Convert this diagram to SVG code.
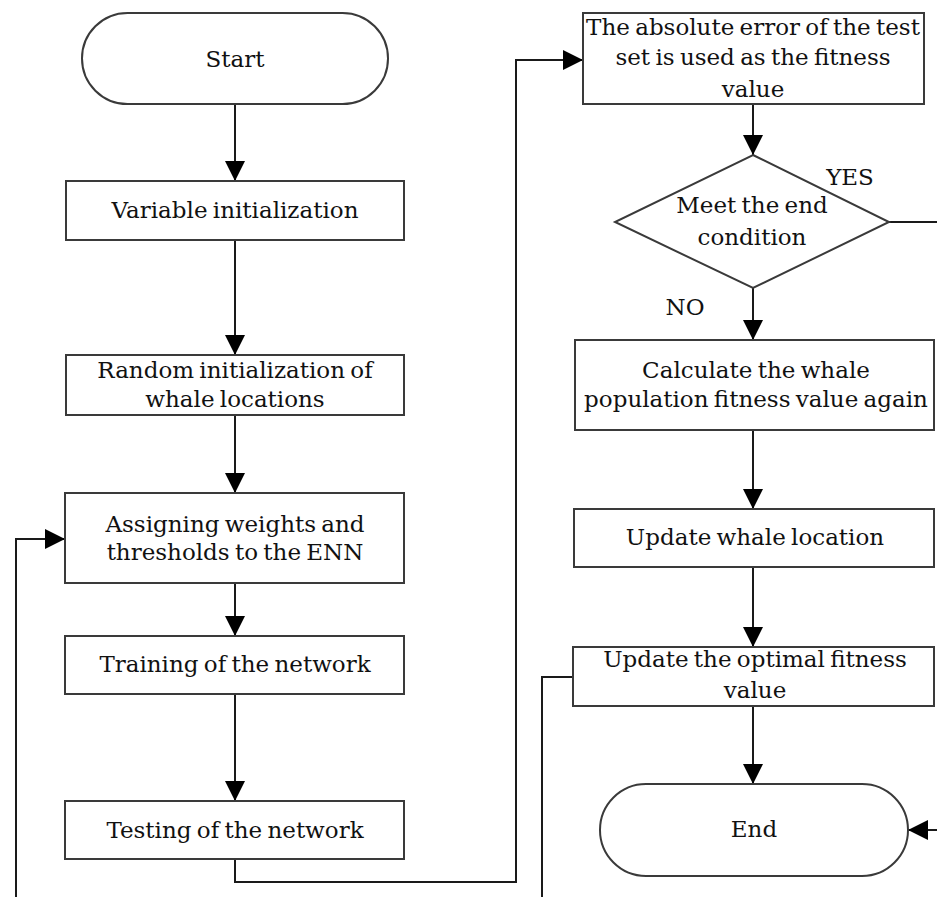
<svg xmlns="http://www.w3.org/2000/svg" width="937" height="897" viewBox="0 0 937 897">
<defs>
<marker id="arr" markerUnits="userSpaceOnUse" markerWidth="20" markerHeight="20" viewBox="0 0 18 18" refX="18" refY="9" orient="auto">
<path d="M0,0 L18,9 L0,18 Z" fill="#000"/>
</marker>
<style>
.box{fill:#fff;stroke:#3a3a3a;stroke-width:2}
.t{font-family:"DejaVu Serif","Liberation Serif",serif;font-size:23px;fill:#111;text-anchor:middle;word-spacing:-2px}
.c{fill:none;stroke:#1a1a1a;stroke-width:2}
.ca{fill:none;stroke:#1a1a1a;stroke-width:2;marker-end:url(#arr)}
</style>
</defs>
<rect width="937" height="897" fill="#fff"/>
<g id="connectors">
<path class="ca" d="M235,104 V181"/>
<path class="ca" d="M235,240 V355"/>
<path class="ca" d="M235,415 V493"/>
<path class="ca" d="M235,583 V636"/>
<path class="ca" d="M235,694 V801"/>
<path class="ca" d="M235,859 V882 H516 V60 H583"/>
<path class="ca" d="M753,104 V155"/>
<path class="ca" d="M753,288 V340"/>
<path class="ca" d="M889,222 H960 V830 H908"/>
<path class="ca" d="M753,430 V509"/>
<path class="ca" d="M753,567 V647"/>
<path class="ca" d="M753,706 V784"/>
<path class="ca" d="M573,677 H542 V930 H16 V539 H65"/>
<text class="t" x="850" y="185">YES</text>
<text class="t" x="685" y="315">NO</text>
</g>
<g id="start"><rect class="box" x="82" y="13" width="306" height="91" rx="45.5"/><text class="t" x="235" y="67">Start</text></g>
<g id="var-init"><rect class="box" x="66" y="181" width="338" height="59"/><text class="t" x="235" y="218">Variable initialization</text></g>
<g id="random-init"><rect class="box" x="66" y="355" width="338" height="60"/><text class="t" x="235" y="378">Random initialization of</text><text class="t" x="235" y="407">whale locations</text></g>
<g id="assign"><rect class="box" x="65" y="493" width="339" height="90"/><text class="t" x="235" y="532">Assigning weights and</text><text class="t" x="235" y="560">thresholds to the ENN</text></g>
<g id="training"><rect class="box" x="65" y="636" width="339" height="58"/><text class="t" x="235" y="672">Training of the network</text></g>
<g id="testing"><rect class="box" x="65" y="801" width="339" height="58"/><text class="t" x="235" y="838">Testing of the network</text></g>
<g id="fitness"><rect class="box" x="583" y="13" width="341" height="91"/><text class="t" x="753" y="35">The absolute error of the test</text><text class="t" x="753" y="65">set is used as the fitness</text><text class="t" x="753" y="97">value</text></g>
<g id="decision"><polygon class="box" points="753,155 889,222 753,288 615,222"/><text class="t" x="752" y="213">Meet the end</text><text class="t" x="752" y="245">condition</text></g>
<g id="calculate"><rect class="box" x="575" y="340" width="359" height="90"/><text class="t" x="756" y="378">Calculate the whale</text><text class="t" x="756" y="407">population fitness value again</text></g>
<g id="update-loc"><rect class="box" x="574" y="509" width="360" height="58"/><text class="t" x="755" y="545">Update whale location</text></g>
<g id="update-opt"><rect class="box" x="573" y="647" width="361" height="59"/><text class="t" x="755" y="667">Update the optimal fitness</text><text class="t" x="755" y="698">value</text></g>
<g id="end"><rect class="box" x="600" y="784" width="308" height="92" rx="46"/><text class="t" x="754" y="837">End</text></g>
</svg>
